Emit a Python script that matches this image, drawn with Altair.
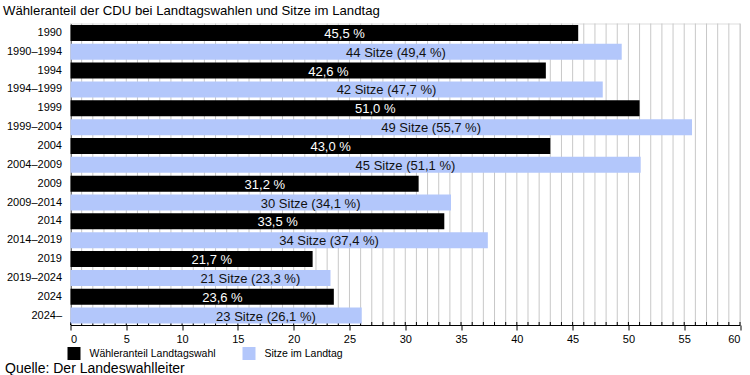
import altair as alt
import pandas as pd

FONT = "Liberation Sans"

election_labels = ["1990", "1994", "1999", "2004", "2009", "2014", "2019", "2024"]
period_labels = ["1990–1994", "1994–1999", "1999–2004", "2004–2009",
                 "2009–2014", "2014–2019", "2019–2024", "2024–"]
vote_share = [45.5, 42.6, 51.0, 43.0, 31.2, 33.5, 21.7, 23.6]
seats = [44, 42, 49, 45, 30, 34, 21, 23]
seat_share = [49.4, 47.7, 55.7, 51.1, 34.1, 37.4, 23.3, 26.1]

series_names = ["Wähleranteil Landtagswahl", "Sitze im Landtag"]
bar_colors = ["#000000", "#b3c7fb"]
x_ticks = list(range(0, 61, 5))
grid_values = list(range(0, 61))
title_text = "Wähleranteil der CDU bei Landtagswahlen und Sitze im Landtag"
source_text = "Quelle: Der Landeswahlleiter"

def fmt(v):
    return f"{v:.1f}".replace(".", ",")

rows = []
order = []
for i in range(len(election_labels)):
    rows.append({"cat": election_labels[i], "value": vote_share[i],
                 "series": series_names[0], "label": f"{fmt(vote_share[i])} %"})
    rows.append({"cat": period_labels[i], "value": seat_share[i],
                 "series": series_names[1],
                 "label": f"{seats[i]} Sitze ({fmt(seat_share[i])} %)"})
    order += [election_labels[i], period_labels[i]]
df = pd.DataFrame(rows)

W, H = 669.5, 301.5

xscale = alt.Scale(domain=[0, 60], nice=False, zero=True)
yscale = alt.Scale(domain=order, paddingInner=0.15, paddingOuter=0.075)

grid = alt.Chart(pd.DataFrame({"g": grid_values})).mark_rule(
    color="#c8c8c8", strokeWidth=1
).encode(x=alt.X("g:Q", scale=xscale), y=alt.value(0), y2=alt.value(H))

minor = alt.Chart(pd.DataFrame({"g": grid_values})).mark_rule(
    color="black", strokeWidth=1
).encode(x=alt.X("g:Q", scale=xscale), y=alt.value(H - 3), y2=alt.value(H))

bars = alt.Chart(df).mark_bar().encode(
    x=alt.X("value:Q", scale=xscale,
            axis=alt.Axis(values=x_ticks, title=None, grid=False, tickSize=5,
                          tickColor="black", domainColor="black",
                          labelFont=FONT, labelFontSize=11, labelColor="black",
                          labelPadding=3)),
    y=alt.Y("cat:N", scale=yscale, sort=order,
            axis=alt.Axis(title=None, ticks=False, domainColor="black",
                          labelFont=FONT, labelFontSize=11, labelColor="black",
                          labelPadding=9)),
    color=alt.Color("series:N",
                    scale=alt.Scale(domain=series_names, range=bar_colors),
                    legend=alt.Legend(title=None, orient="none", direction="horizontal",
                                      legendX=-3, legendY=323.5, padding=0,
                                      symbolType="square", symbolSize=169,
                                      symbolStrokeWidth=0, symbolOpacity=1,
                                      labelFont=FONT, labelFontSize=10.5,
                                      labelColor="black", labelOffset=9,
                                      columnPadding=26)),
)

labels = alt.Chart(df).transform_calculate(
    half="datum.value / 2"
).mark_text(align="left", baseline="middle", font=FONT, fontSize=13, dy=1).encode(
    x=alt.X("half:Q", scale=xscale),
    y=alt.Y("cat:N", scale=yscale, sort=order),
    text="label:N",
    color=alt.condition(alt.datum.series == series_names[0],
                        alt.value("white"), alt.value("#111111")),
)

source = alt.Chart(pd.DataFrame({"t": [source_text]})).mark_text(
    align="left", baseline="alphabetic", font=FONT, fontSize=14, color="black"
).encode(text="t:N", x=alt.value(-65.5), y=alt.value(H + 47.5))

chart = alt.layer(grid, minor, bars, labels, source).properties(
    width=W, height=H,
    title=alt.TitleParams(title_text, anchor="start", font=FONT, fontSize=13.2,
                          fontWeight="normal", color="black", dx=-2, offset=5),
    autosize=alt.AutoSizeParams(type="none"),
    padding={"left": 70.5, "top": 23.5, "right": 10, "bottom": 50},
).configure_view(stroke=None).configure(background="white")

chart.save("out.html", embed_options={"renderer": "svg", "actions": False})
